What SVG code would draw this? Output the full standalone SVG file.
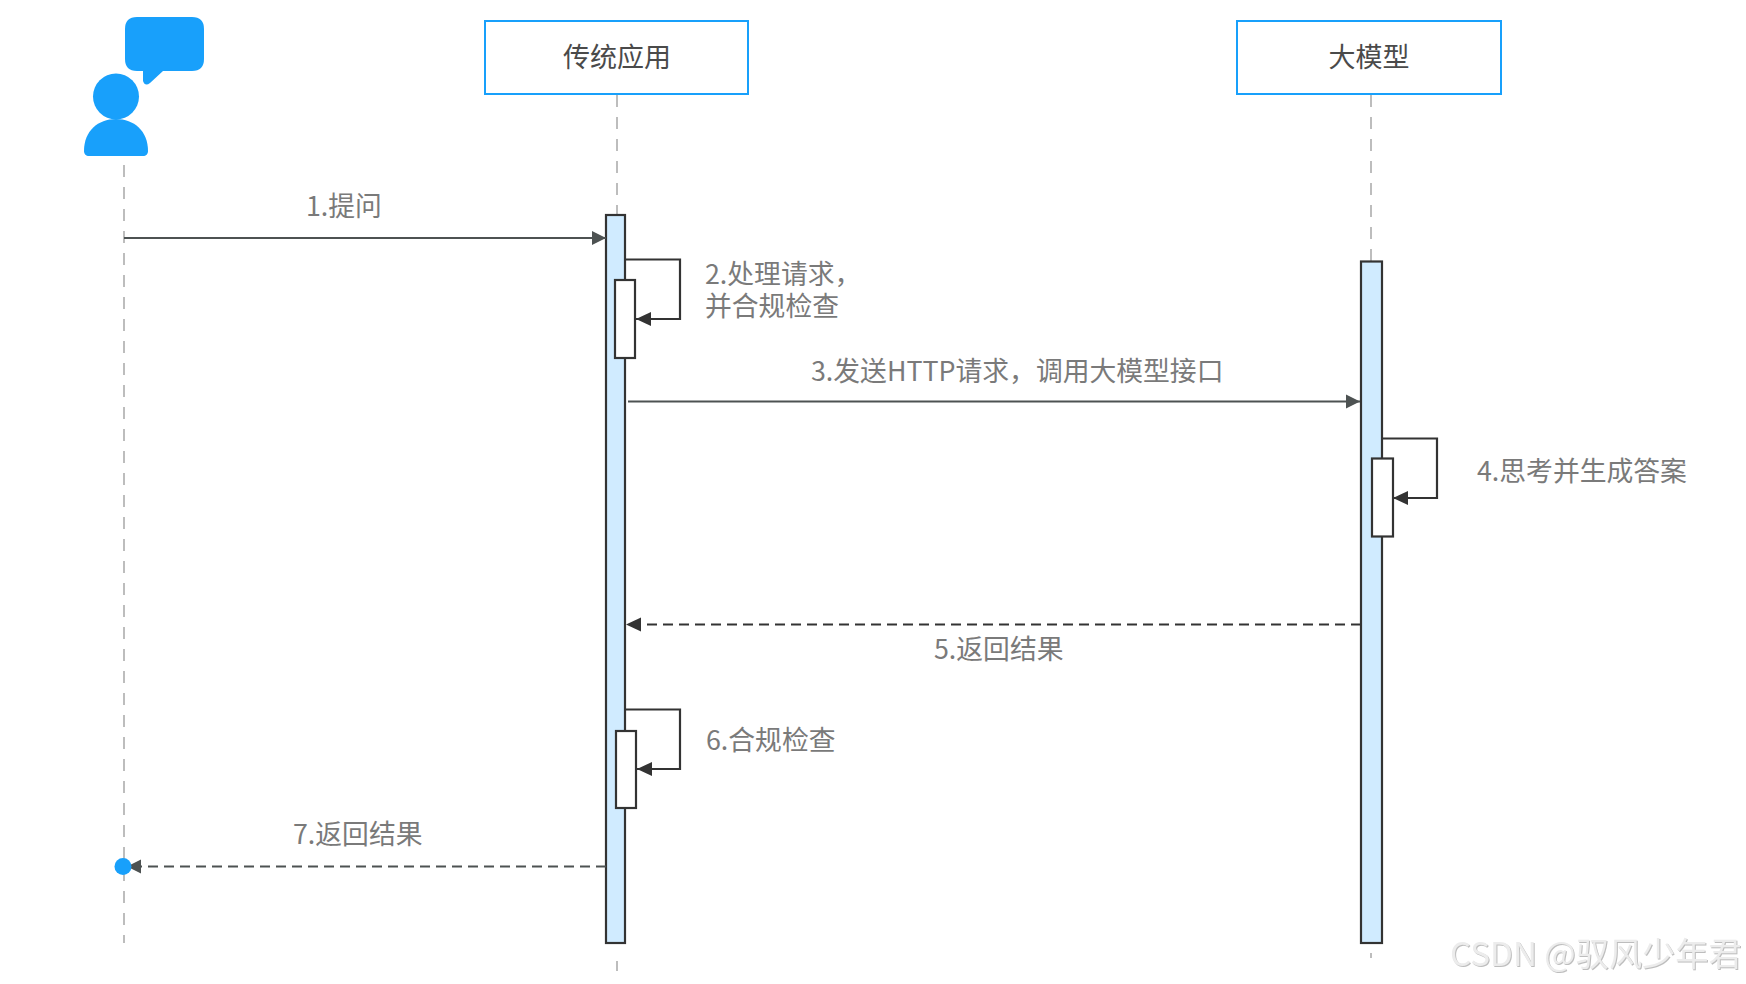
<svg xmlns="http://www.w3.org/2000/svg" width="1746" height="984" viewBox="0 0 1746 984">
<style>
text{font-family:"Noto Sans CJK SC","Noto Sans",sans-serif}
.h{font-size:27px;fill:#4a4a4a;text-anchor:middle}
.l{font-size:26.800px;fill:#7a7a7a}
.wm{font-size:33.200px;fill:#ececec;filter:drop-shadow(1px 1px 0 #bdbdbd)}
.box{fill:#fff;stroke:#18a0fb;stroke-width:2}
.life{stroke:#bdbdbd;stroke-width:2;stroke-dasharray:12 10;fill:none}
.act{fill:#d0ebff;stroke:#333;stroke-width:2.200}
.sub{fill:#fff;stroke:#333;stroke-width:2.200}
.c{fill:none;stroke:#4d5252;stroke-width:2}
.self{fill:none;stroke:#333;stroke-width:2.200}
.d{stroke-dasharray:10 6}
</style>
<defs>
<marker id="a" markerUnits="userSpaceOnUse" markerWidth="16" markerHeight="16" refX="14" refY="8" orient="auto"><path d="M0 1L14 8L0 15Z" fill="#4d5252"/></marker>
<marker id="b" markerUnits="userSpaceOnUse" markerWidth="17" markerHeight="16" refX="15" refY="8" orient="auto"><path d="M0 1L15 8L0 15Z" fill="#333"/></marker>
</defs>
<g id="lifelines">
<path class="life" d="M124 165V943"/>
<path class="life" d="M617 95V215M617 961V971"/>
<path class="life" d="M1371 95V958"/>
</g>
<g id="user">
<circle cx="116" cy="96.500" r="23" fill="#18a0fb"/>
<path d="M84 151C84 131 98 119 116 119C134 119 148 131 148 151C148 154 146 156 143 156H89C86 156 84 154 84 151Z" fill="#18a0fb"/>
<path d="M137 17H192Q204 17 204 29V59Q204 71 192 71H163L150 83Q145 87 143 81V71H137Q125 71 125 59V29Q125 17 137 17Z" fill="#18a0fb"/>
</g>
<g id="app">
<rect class="box" x="485" y="21" width="263" height="73"/>
<text class="h" x="617" y="67">传统应用</text>
</g>
<g id="llm">
<rect class="box" x="1237" y="21" width="264" height="73"/>
<text class="h" x="1369" y="67">大模型</text>
</g>
<g id="app-activation">
<rect class="act" x="606" y="215" width="19" height="728"/>
<rect class="sub" x="615" y="280" width="20" height="78"/>
<rect class="sub" x="616" y="731" width="20" height="77"/>
</g>
<g id="llm-activation">
<rect class="act" x="1361" y="261.500" width="21" height="681.500"/>
<rect class="sub" x="1372" y="458.500" width="21" height="78"/>
</g>
<g id="connectors">
<path class="c" d="M124 238H606" marker-end="url(#a)"/>
<path class="self" d="M625 259.500H680V319H636" marker-end="url(#b)"/>
<path class="c" d="M628 401.500H1360" marker-end="url(#a)"/>
<path class="self" d="M1382 438.500H1437V498H1393" marker-end="url(#b)"/>
<path class="self d" d="M1361 624.500H626" marker-end="url(#b)"/>
<path class="self" d="M625 709.500H680V769H637" marker-end="url(#b)"/>
<path class="c d" d="M606 866.500H127" marker-end="url(#a)"/>
<circle cx="123" cy="866.500" r="8.500" fill="#18a0fb"/>
</g>
<g id="labels">
<text class="l" x="306" y="216">1.提问</text>
<text class="l" x="705" y="284">2.处理请求，<tspan x="705" y="316">并合规检查</tspan></text>
<text class="l" x="811" y="381">3.发送HTTP请求，调用大模型接口</text>
<text class="l" x="1477" y="481">4.思考并生成答案</text>
<text class="l" x="934" y="659">5.返回结果</text>
<text class="l" x="706" y="750">6.合规检查</text>
<text class="l" x="293" y="844">7.返回结果</text>
<text class="wm" x="1450" y="966">CSDN @驭风少年君</text>
</g>
</svg>
